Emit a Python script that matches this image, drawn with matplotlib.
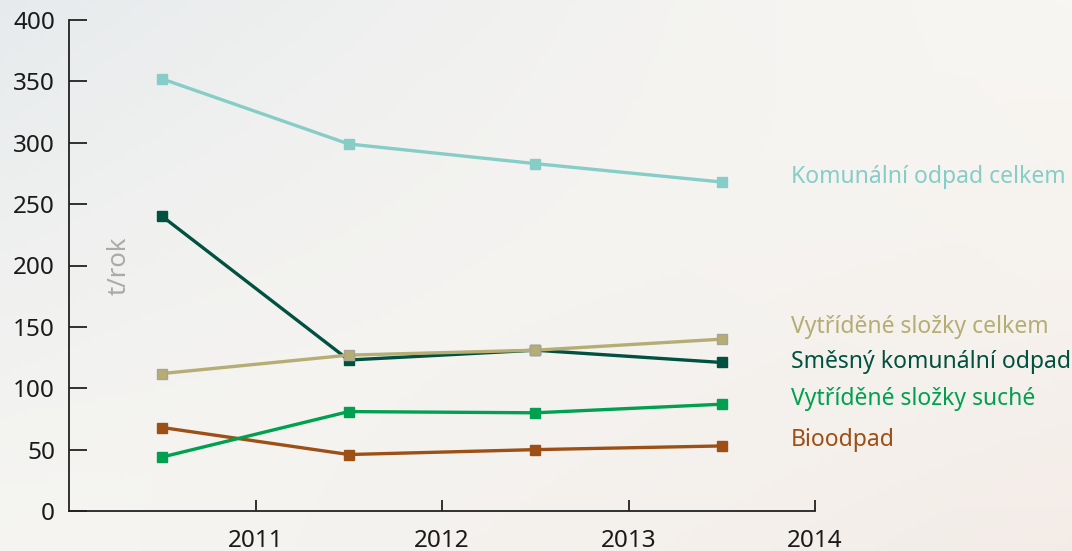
import numpy as np
import matplotlib
matplotlib.use("Agg")
import matplotlib.pyplot as plt

plt.rcParams['font.family'] = ['Noto Sans', 'DejaVu Sans']

# data (t/rok), points sit between year ticks
years = [2010.5, 2011.5, 2012.5, 2013.5]
komunalni = [352, 299, 283, 268]
smesny = [240, 123, 131, 121]
vytridene = [112, 127, 131, 140]
suche = [44, 81, 80, 87]
bio = [68, 46, 50, 53]

names = ['Komunální odpad celkem', 'Vytříděné složky celkem', 'Směsný komunální odpad',
         'Vytříděné složky suché', 'Bioodpad']
label_y = [272, 150, 121, 91, 58]

c_kom = '#86cdc8'
c_sme = '#00513f'
c_vyt = '#b5ad73'
c_such = '#00a050'
c_bio = '#9c5016'

fig = plt.figure(figsize=(10.72, 5.51), dpi=100)

# background gradient
bg = fig.add_axes([0, 0, 1, 1], zorder=-10)
tl = np.array([0.905, 0.92, 0.93])
tr = np.array([0.97, 0.96, 0.945])
bl = np.array([0.95, 0.95, 0.94])
br = np.array([0.955, 0.925, 0.905])
u = np.linspace(0, 1, 200)[None, :, None]
v = np.linspace(0, 1, 100)[:, None, None]
mid = np.array([0.975, 0.97, 0.955])
grad = (1 - u) * (1 - v) * tl + u * (1 - v) * tr + (1 - u) * v * bl + u * v * br
w = 1 - np.abs(u + v - 1)
grad = grad * (1 - 0.5 * w) + mid * 0.5 * w
bg.imshow(grad, aspect='auto', extent=[0, 1, 0, 1])
bg.axis('off')

ax = fig.add_axes([69 / 1072, 1 - 511 / 551, (815 - 69) / 1072, (511 - 20) / 551])
ax.patch.set_alpha(0)

lw = 2.4
ms = 6.5
ax.plot(years, komunalni, color=c_kom, lw=lw, marker='s', ms=ms, mec=c_kom)
ax.plot(years, bio, color=c_bio, lw=lw, marker='s', ms=ms, mec=c_bio)
ax.plot(years, suche, color=c_such, lw=lw, marker='s', ms=ms, mec=c_such)
ax.plot(years, smesny, color=c_sme, lw=lw, marker='s', ms=ms, mec=c_sme)
ax.plot(years, vytridene, color=c_vyt, lw=lw, marker='s', ms=ms, mec='#a8a494')

ax.set_xlim(2010, 2014)
ax.set_ylim(0, 400)
ax.set_xticks([2011, 2012, 2013, 2014])
ax.set_yticks(range(0, 401, 50))

for s in ['top', 'right']:
    ax.spines[s].set_visible(False)
for s in ['left', 'bottom']:
    ax.spines[s].set_color('#222222')
    ax.spines[s].set_linewidth(1.3)

ax.tick_params(axis='y', direction='in', length=13, width=1.3, color='#222222',
               labelsize=17.5, labelcolor='#1a1a1a', pad=10)
ax.tick_params(axis='x', direction='in', length=8, width=1.3, color='#222222',
               labelsize=17.5, labelcolor='#1a1a1a', pad=13)

ax.text(2010.27, 200, 't/rok', rotation=90, color='#aaaaaa', fontsize=18.5,
        ha='center', va='center')

colors = [c_kom, c_vyt, c_sme, c_such, c_bio]
for name, yy, col in zip(names, label_y, colors):
    ax.text(2013.87, yy, name, color=col, fontsize=16.5, ha='left', va='center',
            clip_on=False)

fig.savefig('out.png', dpi=100)
